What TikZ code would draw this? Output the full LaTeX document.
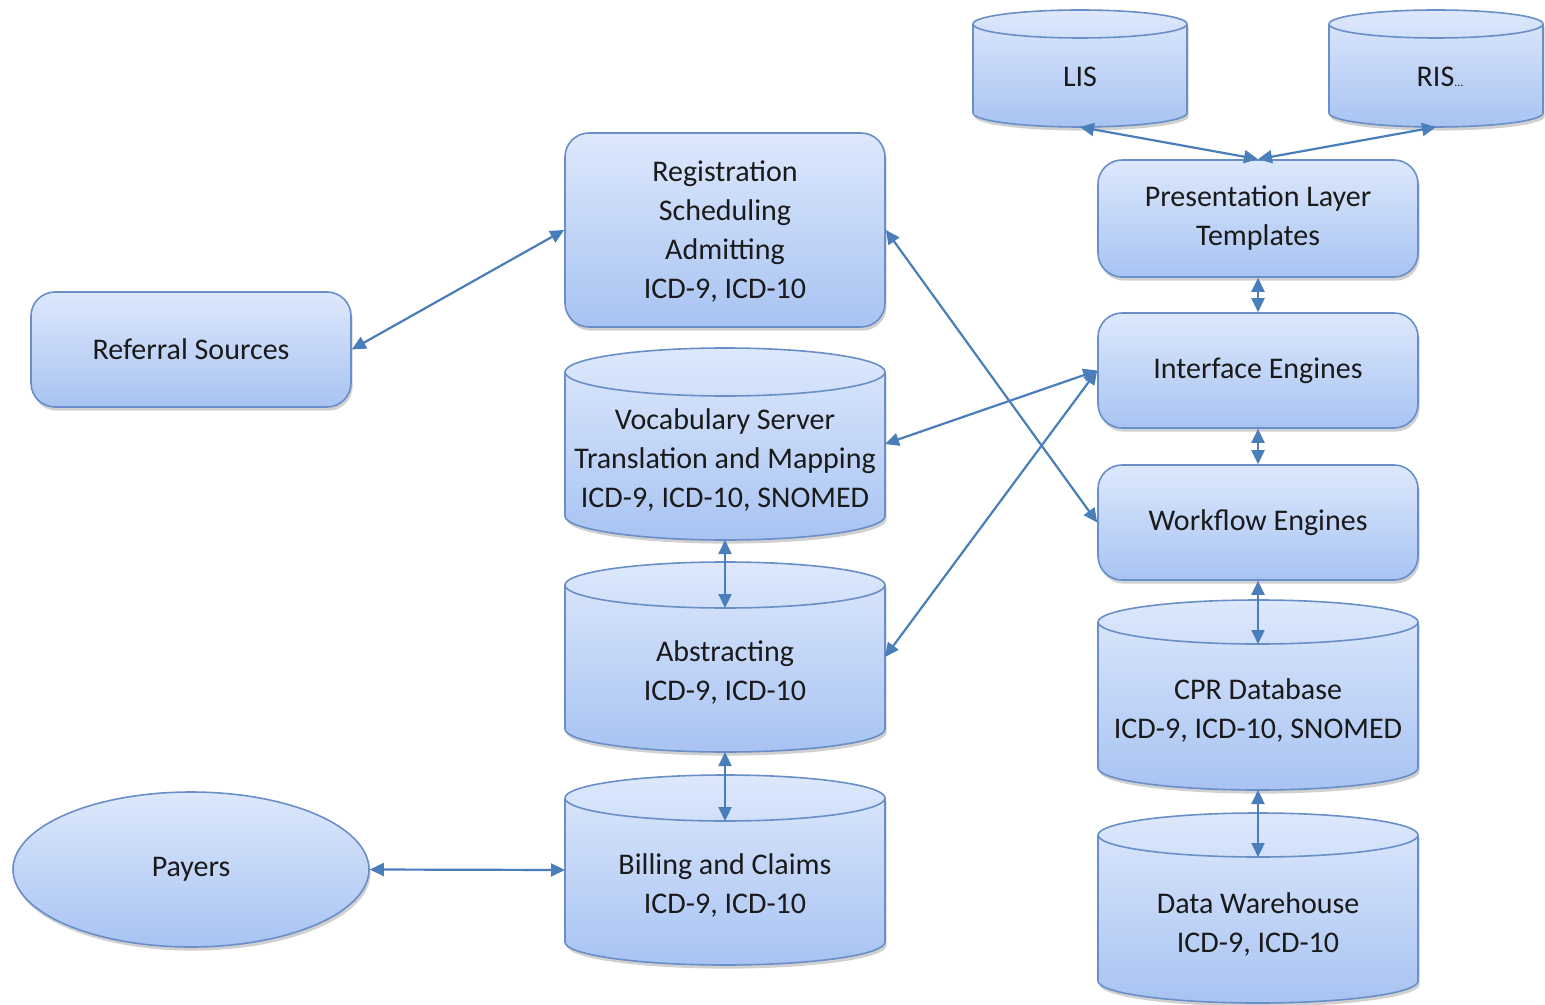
\documentclass[tikz,border=0pt]{standalone}
\usepackage{fontspec}
\setmainfont{Carlito}
\usetikzlibrary{arrows.meta,shapes.geometric,shadows}
\definecolor{bordc}{HTML}{6A8FC8}
\definecolor{topc}{HTML}{DDE8FC}
\definecolor{botc}{HTML}{A8C3F2}
\definecolor{arrc}{HTML}{4A7EBB}
\definecolor{txtc}{HTML}{1A1A1A}
\tikzset{
  shad/.style={drop shadow={shadow xshift=0.8pt,shadow yshift=-1.8pt,opacity=0.3,fill=black!60}},
  lbl/.style={font=\fontsize{15}{19.5}\selectfont,text=txtc,align=center,inner sep=0pt},
  rbox/.style={lbl,draw=bordc,line width=0.8pt,rounded corners=12pt,top color=topc,bottom color=botc,shad,minimum width=160pt},
  oval/.style={lbl,ellipse,draw=bordc,line width=0.8pt,top color=topc,bottom color=botc,shad},
  cylbody/.style={draw=bordc,line width=0.8pt,top color=topc,bottom color=botc,shad},
  cylline/.style={draw=bordc,line width=0.8pt},
  cylnode/.style={inner sep=0pt,outer sep=0pt},
  conn/.style={draw=arrc,line width=1.1pt,>={Triangle[length=7pt,width=6.5pt]},<->}
}
% #1 name, #2 x-left, #3 y-top, #4 x-right, #5 y-bottom, #6 ry (px), #7 text x, #8 text y, #9 text
\newcommand\dbcyl[9]{%
  \pgfmathsetmacro\crx{(#4-#2)/4}%
  \pgfmathsetmacro\cry{#6/2}%
  \path[cylbody] (#2,#3+#6) -- (#2,#5-#6)
     arc[start angle=180,end angle=360,x radius=\crx pt,y radius=\cry pt]
     -- (#4,#3+#6)
     arc[start angle=0,end angle=180,x radius=\crx pt,y radius=\cry pt] -- cycle;
  \draw[cylline] (#2,#3+#6) arc[start angle=180,end angle=360,x radius=\crx pt,y radius=\cry pt];
  \pgfmathsetmacro\cwd{(#4-#2)/2}%
  \pgfmathsetmacro\cht{(#5-#3)/2}%
  \node[cylnode,minimum width=\cwd pt,minimum height=\cht pt] (#1) at ({(#2+#4)/2},{(#3+#5)/2}) {};
  \coordinate (#1-front) at ({(#2+#4)/2},#3+2*#6);
  \node[lbl] (#1-text) at (#7,#8) {#9};
}
\begin{document}
\begin{tikzpicture}[x=0.5pt,y=-0.5pt]
\useasboundingbox (0,0) rectangle (1545,1005);
\fill[white] (0,0) rectangle (1545,1005);

% rounded boxes
\node[rbox,minimum height=97pt,text depth=-6pt] (reg) at (725,230) {Registration\\Scheduling\\Admitting\\ICD-9, ICD-10};
\node[rbox,minimum height=57.5pt] (ref) at (191,349.5) {Referral Sources};
\node[rbox,minimum height=58.5pt] (pres) at (1258,218.5) {Presentation Layer\\Templates};
\node[rbox,minimum height=57.5pt] (inte) at (1258,370.5) {Interface Engines};
\node[rbox,minimum height=57.5pt] (work) at (1258,522.5) {Workflow Engines};
\node[oval,minimum width=178pt,minimum height=77.5pt] (pay) at (191,869.5) {Payers};

% cylinders
\dbcyl{lis}{973}{10}{1187}{127}{14}{1080}{77}{LIS}
\dbcyl{ris}{1329}{10}{1543}{127}{14}{1440}{77}{RIS{\fontsize{6}{7}\selectfont...}}
\dbcyl{voc}{565}{348}{885}{540}{24}{725}{460}{Vocabulary Server\\Translation and Mapping\\ICD-9, ICD-10, SNOMED}
\dbcyl{abs}{565}{562}{885}{752}{23}{725}{672}{Abstracting\\ICD-9, ICD-10}
\dbcyl{bill}{565}{775}{885}{965}{23}{725}{885}{Billing and Claims\\ICD-9, ICD-10}
\dbcyl{cpr}{1098}{600}{1418}{790}{22}{1258}{710}{CPR Database\\ICD-9, ICD-10, SNOMED}
\dbcyl{dw}{1098}{813}{1418}{1003}{22}{1258}{924}{Data Warehouse\\ICD-9, ICD-10}

% connectors
\draw[conn] (ref.east) -- (reg.west);
\draw[conn] (reg.east) -- (work.west);
\draw[conn] (voc.east) -- (inte.west);
\draw[conn] (abs.east) -- (inte.west);
\draw[conn] (pres.north) -- (lis.south);
\draw[conn] (pres.north) -- (ris.south);
\draw[conn] (pres.south) -- (inte.north);
\draw[conn] (inte.south) -- (work.north);
\draw[conn] (work.south) -- (cpr-front);
\draw[conn] (cpr.south) -- (dw-front);
\draw[conn] (voc.south) -- (abs-front);
\draw[conn] (abs.south) -- (bill-front);
\draw[conn] (pay.east) -- (bill.west);
\end{tikzpicture}
\end{document}
